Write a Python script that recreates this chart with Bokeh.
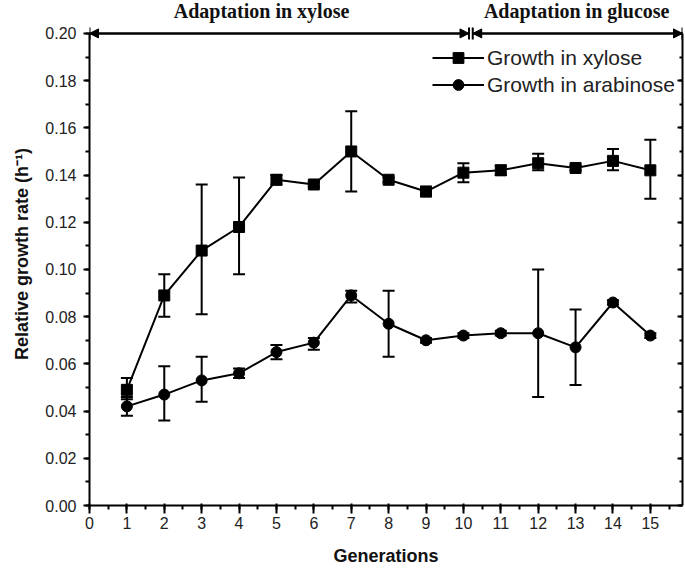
from bokeh.plotting import figure
from bokeh.models import (Range1d, LinearAxis, Whisker, ColumnDataSource, Legend, LegendItem,
                          Arrow, NormalHead, TeeHead, Label, SingleIntervalTicker,
                          NumeralTickFormatter, CustomJSTickFormatter)
from bokeh.embed import file_html
from bokeh.resources import INLINE

generations = [1, 2, 3, 4, 5, 6, 7, 8, 9, 10, 11, 12, 13, 14, 15]
xylose = [0.049, 0.089, 0.108, 0.118, 0.138, 0.136, 0.150, 0.138, 0.133, 0.141, 0.142, 0.145, 0.143, 0.146, 0.142]
xylose_lo = [0.045, 0.080, 0.081, 0.098, 0.136, 0.135, 0.133, 0.137, 0.131, 0.137, 0.140, 0.142, 0.142, 0.142, 0.130]
xylose_hi = [0.054, 0.098, 0.136, 0.139, 0.140, 0.137, 0.167, 0.139, 0.135, 0.145, 0.144, 0.149, 0.144, 0.151, 0.155]
arabinose = [0.042, 0.047, 0.053, 0.056, 0.065, 0.069, 0.089, 0.077, 0.070, 0.072, 0.073, 0.073, 0.067, 0.086, 0.072]
arabinose_lo = [0.038, 0.036, 0.044, 0.054, 0.062, 0.066, 0.086, 0.063, 0.069, 0.071, 0.072, 0.046, 0.051, 0.085, 0.071]
arabinose_hi = [0.046, 0.059, 0.063, 0.058, 0.068, 0.071, 0.091, 0.091, 0.071, 0.073, 0.074, 0.100, 0.083, 0.087, 0.073]
series_names = ["Growth in xylose", "Growth in arabinose"]
phase_labels = ["Adaptation in xylose", "Adaptation in glucose"]
phase_x = [4.6, 13.03]
phase_bounds = [(0.0, 10.15), (10.25, 15.86)]
arrow_y = 0.2

FONT = "Liberation Sans"

p = figure(width=684, height=570, output_backend="svg", toolbar_location=None,
           x_range=Range1d(0, 15.86), y_range=Range1d(0, 0.2131),
           min_border_left=89, min_border_right=2, min_border_top=2, min_border_bottom=65)
p.outline_line_color = None
p.grid.visible = False
p.background_fill_color = "white"

p.xaxis.ticker = SingleIntervalTicker(interval=1, num_minor_ticks=2)
p.yaxis.ticker = SingleIntervalTicker(interval=0.02, num_minor_ticks=2)
p.yaxis.formatter = NumeralTickFormatter(format="0.00")
p.yaxis.bounds = (0, 0.2)
for ax in (p.xaxis[0], p.yaxis[0]):
    ax.axis_line_width = 2
    ax.major_tick_line_width = 2
    ax.minor_tick_line_width = 2
    ax.major_label_text_font = FONT
    ax.major_label_text_font_size = "16px"
    ax.major_label_text_color = "#222222"
    ax.axis_label_text_font = FONT
    ax.axis_label_text_font_style = "bold"
    ax.axis_label_text_font_size = "18px"
    ax.axis_label_text_color = "#111111"
p.xaxis.major_tick_out = 8
p.xaxis.major_tick_in = 2
p.xaxis.minor_tick_out = 4
p.xaxis.minor_tick_in = 0
p.xaxis.major_label_standoff = 3
p.yaxis.major_tick_out = 6
p.yaxis.major_tick_in = 0
p.yaxis.minor_tick_out = 4
p.yaxis.minor_tick_in = 0
p.yaxis.major_label_standoff = 7
p.xaxis.axis_label = "Generations"
p.yaxis.axis_label = "Relative growth rate (h\u207b\u00b9)"
p.xaxis.axis_label_standoff = 14
p.yaxis.axis_label_standoff = 10

rax = LinearAxis(ticker=SingleIntervalTicker(interval=0.02, num_minor_ticks=2),
                 formatter=CustomJSTickFormatter(code="return ''"), bounds=(0, 0.2),
                 major_tick_in=5, major_tick_out=0,
                 minor_tick_in=3, minor_tick_out=0, axis_line_width=2,
                 major_tick_line_width=2, minor_tick_line_width=2,
                 major_label_standoff=0)
p.add_layout(rax, "right")

src = ColumnDataSource(dict(x=generations, xy=xylose, xy_lo=xylose_lo, xy_hi=xylose_hi,
                            ar=arabinose, ar_lo=arabinose_lo, ar_hi=arabinose_hi))

for lo, hi in (("xy_lo", "xy_hi"), ("ar_lo", "ar_hi")):
    w = Whisker(source=src, base="x", lower=lo, upper=hi, line_width=2, line_color="black",
                upper_head=TeeHead(size=12, line_width=2, line_color="black"),
                lower_head=TeeHead(size=12, line_width=2, line_color="black"))
    p.add_layout(w)

l1 = p.line("x", "xy", source=src, line_width=2, line_color="black")
m1 = p.scatter("x", "xy", source=src, marker="square", size=11, color="black")
l2 = p.line("x", "ar", source=src, line_width=2, line_color="black")
m2 = p.scatter("x", "ar", source=src, marker="circle", size=11, color="black")

legend = Legend(items=[LegendItem(label=series_names[0], renderers=[l1, m1]),
                       LegendItem(label=series_names[1], renderers=[l2, m2])],
                location=(343, 407), border_line_color=None, background_fill_alpha=0,
                label_text_font=FONT, label_text_font_size="21px", label_text_color="#222222",
                glyph_width=52, glyph_height=27, label_height=27, spacing=0, padding=0,
                margin=0, label_standoff=3)
p.add_layout(legend)

for (x0, x1) in phase_bounds:
    p.add_layout(Arrow(x_start=x0, y_start=arrow_y, x_end=x1, y_end=arrow_y, line_width=2,
                       start=NormalHead(size=9, fill_color="black", line_color="black"),
                       end=NormalHead(size=9, fill_color="black", line_color="black")))
    p.add_layout(Arrow(x_start=x0, y_start=arrow_y, x_end=x1, y_end=arrow_y, line_width=2,
                       start=TeeHead(size=12, line_width=2), end=TeeHead(size=12, line_width=2)))

for txt, xc in zip(phase_labels, phase_x):
    p.add_layout(Label(x=xc, y=arrow_y, y_offset=22, text=txt, text_align="center",
                       text_baseline="middle", text_font="Liberation Serif",
                       text_font_style="bold", text_font_size="20px", text_color="#111111"))

open("out.html", "w").write(file_html(p, INLINE))
